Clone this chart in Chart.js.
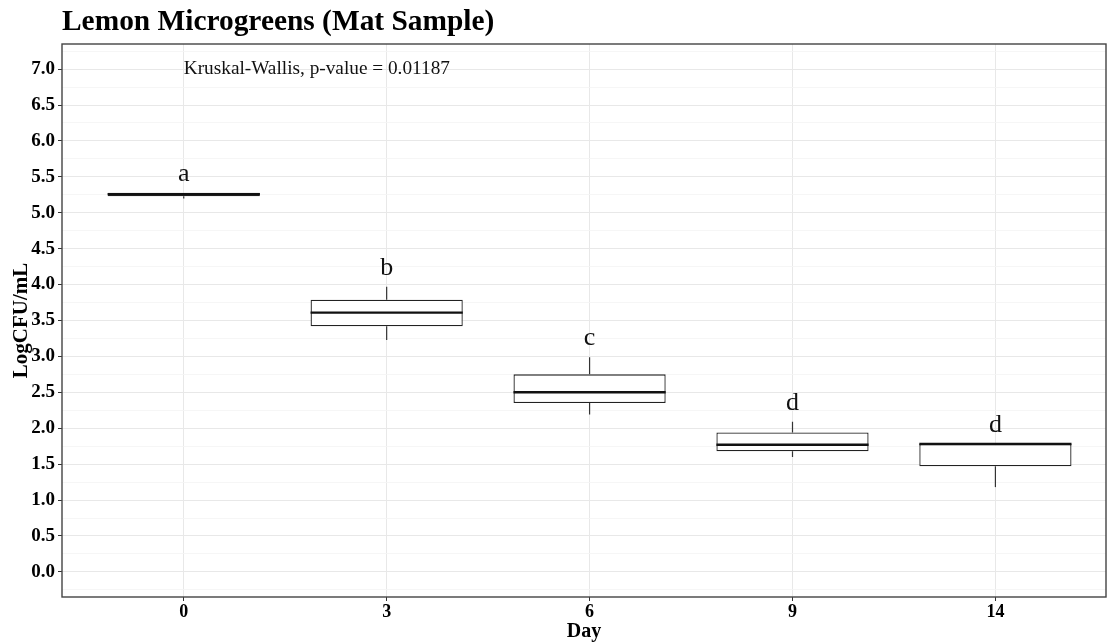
<!DOCTYPE html>
<html>
<head>
<meta charset="utf-8">
<script src="https://cdn.jsdelivr.net/npm/chart.js@4"></script>
<style>
  html, body { margin: 0; padding: 0; background: #ffffff; }
  #wrap { width: 1111px; height: 644px; position: relative; }
</style>
</head>
<body>
<div id="wrap"><canvas id="chart" width="1111" height="644"></canvas></div>
<script>
// Sampling day (x categories)
const days = ['0', '3', '6', '9', '14'];

// Box-plot summary per day (LogCFU/mL)
const whiskerLow  = [5.20, 3.23, 2.19, 1.60, 1.18];
const quartile1   = [5.23, 3.42, 2.35, 1.68, 1.47];
const medians     = [5.26, 3.61, 2.50, 1.77, 1.78];
const quartile3   = [5.28, 3.79, 2.75, 1.94, 1.78];
const whiskerHigh = [5.28, 3.97, 2.99, 2.09, 1.78];

// Significance group letters
const groupLetters = ['a', 'b', 'c', 'd', 'd'];

// Y tick values (major every 0.5, minor every 0.25)
const yTickValues = [];
for (let k = -1; k <= 29; k++) yTickValues.push(k * 0.25);

const chartTitle = 'Lemon Microgreens (Mat Sample)';
const testLabel = 'Kruskal-Wallis, p-value = 0.01187';

const SERIF = '"Liberation Serif", "Times New Roman", serif';
const isMajor = v => Math.abs(v * 2 - Math.round(v * 2)) < 1e-6;

// Whiskers, medians, letters, annotation, title and panel border
const boxExtras = {
  id: 'boxExtras',
  afterDatasetsDraw(chart) {
    const ctx = chart.ctx;
    const y = chart.scales.y;
    const x = chart.scales.x;
    const meta = chart.getDatasetMeta(0);
    ctx.save();
    meta.data.forEach((bar, i) => {
      const cx = bar.x;
      const half = bar.width / 2;
      // whiskers
      ctx.strokeStyle = '#333333';
      ctx.lineWidth = 1.2;
      ctx.beginPath();
      ctx.moveTo(cx, y.getPixelForValue(quartile3[i]));
      ctx.lineTo(cx, y.getPixelForValue(whiskerHigh[i]));
      ctx.moveTo(cx, y.getPixelForValue(quartile1[i]));
      ctx.lineTo(cx, y.getPixelForValue(whiskerLow[i]));
      ctx.stroke();
      // median
      ctx.strokeStyle = '#111111';
      ctx.lineWidth = 2.4;
      ctx.beginPath();
      const my = y.getPixelForValue(medians[i]);
      ctx.moveTo(cx - half, my);
      ctx.lineTo(cx + half, my);
      ctx.stroke();
      // group letter
      ctx.fillStyle = '#111111';
      ctx.font = '26px ' + SERIF;
      ctx.textAlign = 'center';
      ctx.textBaseline = 'middle';
      ctx.fillText(groupLetters[i], cx, y.getPixelForValue(whiskerHigh[i] + 0.26));
    });
    // test annotation
    ctx.fillStyle = '#111111';
    ctx.font = '19.3px ' + SERIF;
    ctx.textAlign = 'left';
    ctx.textBaseline = 'middle';
    ctx.fillText(testLabel, x.getPixelForValue(0), y.getPixelForValue(7.0));
    // panel border
    const a = chart.chartArea;
    ctx.strokeStyle = '#444444';
    ctx.lineWidth = 1.4;
    ctx.strokeRect(a.left, a.top, a.right - a.left, a.bottom - a.top);
    // title
    ctx.fillStyle = '#000000';
    ctx.font = 'bold 29.4px ' + SERIF;
    ctx.textAlign = 'left';
    ctx.textBaseline = 'middle';
    ctx.fillText(chartTitle, a.left, 22);
    ctx.restore();
  }
};

new Chart(document.getElementById('chart'), {
  type: 'bar',
  data: {
    datasets: [{
      data: days.map((d, i) => ({ x: i, y: [quartile1[i], quartile3[i]] })),
      backgroundColor: '#ffffff',
      borderColor: '#222222',
      borderWidth: 1.3,
      borderSkipped: false,
      barPercentage: 0.75,
      categoryPercentage: 1
    }]
  },
  options: {
    responsive: false,
    animation: false,
    layout: { padding: { left: 0, right: 5, top: 44, bottom: 0 } },
    plugins: {
      legend: { display: false },
      tooltip: { enabled: false }
    },
    scales: {
      x: {
        type: 'linear',
        offset: false,
        min: -0.6,
        max: 4.545,
        afterBuildTicks: s => { s.ticks = days.map((d, i) => ({ value: i })); },
        afterFit: s => { s.height = 47; },
        ticks: {
          autoSkip: false,
          maxRotation: 0,
          padding: 1,
          color: '#000000',
          font: { family: SERIF, size: 18, weight: 'bold' },
          callback: v => days[Math.round(v)]
        },
        grid: { offset: false, color: '#e8e8e8', lineWidth: 1, tickLength: 4, tickColor: '#333333' },
        border: { display: false },
        title: {
          display: true,
          text: 'Day',
          color: '#000000',
          font: { family: SERIF, size: 20, weight: 'bold' },
          padding: { top: 0, bottom: 0 }
        }
      },
      y: {
        type: 'linear',
        min: -0.35,
        max: 7.35,
        afterBuildTicks: s => { s.ticks = yTickValues.map(v => ({ value: v })); },
        afterFit: s => { s.width = 62; },
        ticks: {
          autoSkip: false,
          padding: 3,
          color: '#000000',
          font: { family: SERIF, size: 19, weight: 'bold' },
          callback: v => isMajor(v) ? v.toFixed(1) : ''
        },
        grid: {
          color: c => isMajor(c.tick.value) ? '#e8e8e8' : '#f4f4f4',
          lineWidth: c => isMajor(c.tick.value) ? 1 : 0.8,
          tickLength: 4,
          tickColor: c => isMajor(c.tick.value) ? '#333333' : 'rgba(0,0,0,0)'
        },
        border: { display: false },
        title: {
          display: true,
          text: 'LogCFU/mL',
          color: '#000000',
          font: { family: SERIF, size: 21, weight: 'bold' },
          padding: { top: 9, bottom: 0 }
        }
      }
    }
  },
  plugins: [boxExtras]
});
</script>
</body>
</html>
